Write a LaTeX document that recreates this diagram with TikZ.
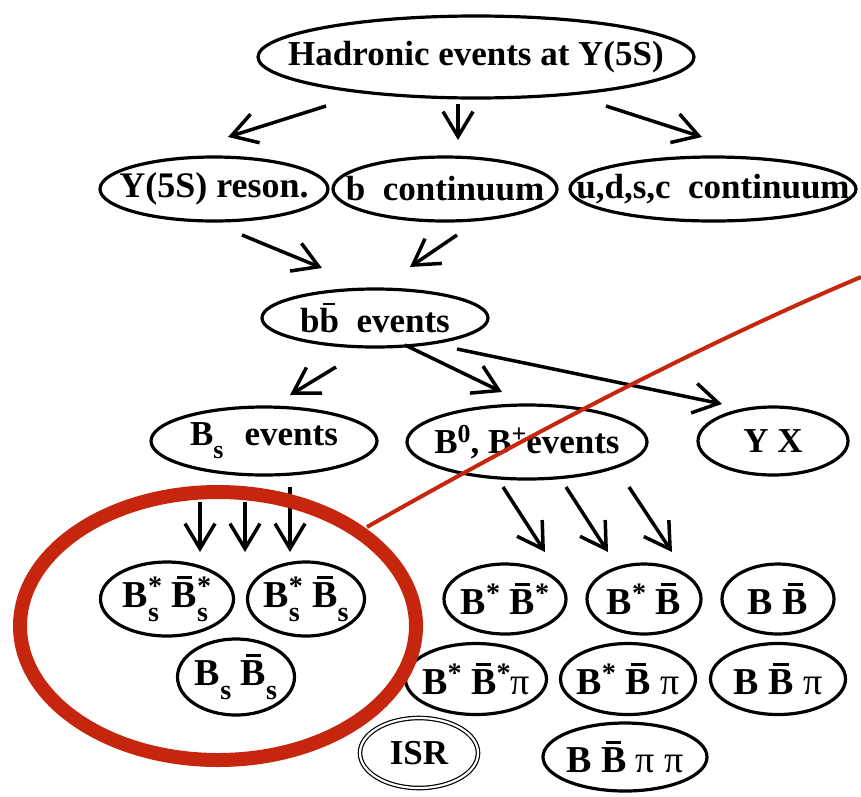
\documentclass[tikz,border=0pt]{standalone}
\usepackage{fontspec}
\setmainfont{Liberation Serif}
\usetikzlibrary{shapes.geometric,arrows.meta}
\definecolor{redmark}{RGB}{198,38,14}
\newcommand{\ob}[1]{\begingroup\setbox0=\hbox{#1}\makebox[0pt][l]{\hspace{0.2\wd0}\raisebox{\dimexpr\ht0+0.09em\relax}{\rule{0.6\wd0}{0.075em}}}\box0\endgroup}
\newcommand{\supsub}[2]{\begingroup\setbox1=\hbox{\scalebox{0.74}{#1}}\setbox2=\hbox{\scalebox{0.74}{#2}}\ifdim\wd1>\wd2 \dimen0=\wd1 \else \dimen0=\wd2 \fi\makebox[\dimen0][l]{\rlap{\raisebox{0.32em}{\box1}}\raisebox{-0.38em}{\box2}}\endgroup}
\newcommand{\subx}[1]{\raisebox{-0.38em}{\scalebox{0.74}{#1}}}
\newcommand{\supx}[1]{\raisebox{0.32em}{\scalebox{0.74}{#1}}}
\newcommand{\pim}{\textmd{π}}
\tikzset{
  ev/.style={inner sep=0pt, font=\fontsize{35}{37}\selectfont\bfseries},
  evs/.style={inner sep=0pt, font=\fontsize{38}{40}\selectfont\bfseries},
  eline/.style={line width=3.2pt},
  arr/.style={line width=3.5pt, -{Straight Barb[length=25pt,width=30pt]}},
}
% \evn[text style]{name}{x,y}{width}{height}{text}
\newcommand{\evn}[6][ev]{\node[#1] (#2) at (#3) {#6};
  \draw[eline] (#2.center) ellipse [x radius=#4/2, y radius=#5/2];}
\begin{document}
\begin{tikzpicture}[x=1pt,y=-1pt]
\useasboundingbox (0,0) rectangle (861,796);
% nodes
\evn{had}{476,57}{436}{82}{Hadronic events at Y(5S)}
\evn{res}{214,189}{228}{64}{\fontsize{36}{38}\selectfont Y(5S) reson.}
\evn{bcont}{445,189}{224}{64}{b\hspace{0.5em}continuum}
\evn{udsc}{713,189}{286}{64}{u,d,s,c\hspace{0.5em}continuum}
\evn{bb}{375,318}{226}{58}{b\ob{b}\hspace{0.5em}events}
\evn{bs}{264,441}{226}{68}{B\subx{s}\hspace{0.6em}events}
\evn{b0}{527,442}{240}{74}{B\supx{0}, B\supx{+}events}
\evn{yx}{773,441}{150}{68}{Y X}
\evn[evs]{ss1}{167,599}{133}{74}{B\supsub{*}{s} \ob{B}\supsub{*}{s}}
\evn[evs]{ss2}{306,599}{117}{74}{B\supsub{*}{s} \ob{B}\subx{s}}
\evn[evs]{ss3}{236,677}{117}{76}{B\subx{s} \ob{B}\subx{s}}
\evn[evs]{d1}{505,599}{122}{70}{B\supx{*} \ob{B}\supx{*}}
\evn[evs]{d2}{644,599}{114}{70}{B\supx{*} \ob{B}}
\evn[evs]{d3}{778,599}{112}{70}{B \ob{B}}
\evn[evs]{p1}{476,679}{141}{71}{B\supx{*} \ob{B}\supx{*}\pim}
\evn[evs]{p2}{628,679}{135}{71}{B\supx{*} \ob{B} \pim}
\evn[evs]{p3}{778,679}{135}{71}{B \ob{B} \pim}
\evn[evs]{pp}{625,757}{164}{68}{B \ob{B} \pim\ \pim}
\node[ev] (isr) at (419,753) {ISR};
\draw[line width=1.2pt, double, double distance=2.2pt] (isr.center) ellipse [x radius=59, y radius=35];
% arrow end points
\coordinate (a1s) at (326,106); \coordinate (a1e) at (228,137);
\coordinate (a2s) at (458,104); \coordinate (a2e) at (458,140);
\coordinate (a3s) at (606,106); \coordinate (a3e) at (702,137);
\coordinate (a4s) at (242,235); \coordinate (a4e) at (322,268);
\coordinate (a5s) at (457,235); \coordinate (a5e) at (410,267);
\coordinate (a6s) at (336,367); \coordinate (a6e) at (290,395);
\coordinate (a7s) at (405,345); \coordinate (a7e) at (502,392);
\coordinate (a8s) at (457,349); \coordinate (a8e) at (722,404);
\coordinate (a9s) at (200,502); \coordinate (a9e) at (200,552);
\coordinate (a10s) at (245,502); \coordinate (a10e) at (245,552);
\coordinate (a11s) at (290,487); \coordinate (a11e) at (290,552);
\coordinate (a12s) at (503,487); \coordinate (a12e) at (545,552);
\coordinate (a13s) at (566,487); \coordinate (a13e) at (608,552);
\coordinate (a14s) at (629,487); \coordinate (a14e) at (672,552);
\foreach \i in {1,...,14} {\draw[arr] (a\i s) -- (a\i e);}
% red overlay
\coordinate (rc) at (218,626);
\coordinate (rl) at (367,527);
\coordinate (rr) at (861,277);
\draw[redmark, line width=14pt] (rc) ellipse [x radius=198, y radius=134];
\draw[redmark, line width=4pt] (rl) .. controls (520,440) and (700,345) .. (rr);
\end{tikzpicture}
\end{document}
